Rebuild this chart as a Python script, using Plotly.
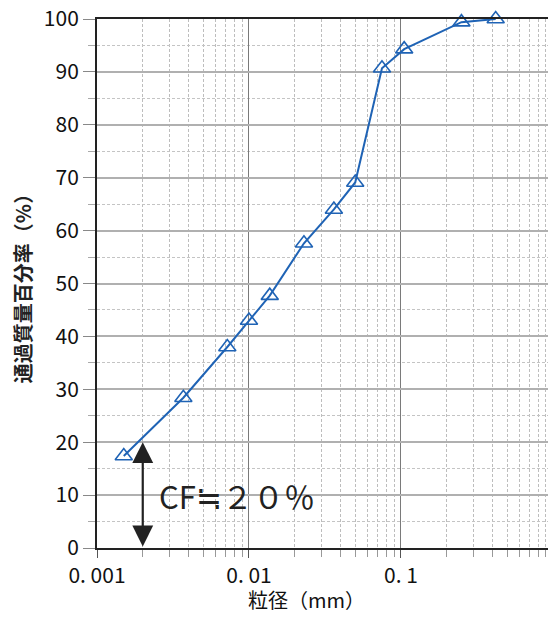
import numpy as np
import plotly.graph_objects as go

# data
grain_size_mm = [0.0015, 0.0037, 0.0072, 0.0100, 0.0137, 0.0230, 0.0362, 0.0500,
                 0.0750, 0.1050, 0.2500, 0.4200]
passing_pct = [17.4, 28.4, 38.0, 43.0, 47.7, 57.6, 64.0, 69.1, 90.7, 94.3, 99.4, 100.0]

x_major_vals = [0.001, 0.01, 0.1, 1]
x_major_text = ["0. 001", "0. 01", "0. 1", "1"]
y_major_vals = list(range(0, 101, 10))

cf_size = 0.002
cf_value = 20
cf_label = "CF≒２０％"

x_title = "粒径（mm）"
y_title = "通過質量百分率（%）"

x_minor_vals = [m * d for d in [0.001, 0.01, 0.1] for m in range(2, 10)]

fig = go.Figure()
fig.add_trace(go.Scatter(
    x=grain_size_mm, y=passing_pct, mode="lines+markers",
    line=dict(color="#1f63b5", width=2),
    marker=dict(symbol="triangle-up-open", size=15, color="#1f63b5",
                line=dict(width=1.6, color="#1f63b5")),
    showlegend=False, cliponaxis=False,
))

font_main = "Noto Sans CJK JP"

fig.update_xaxes(
    type="log", range=[-3, 0.0004],
    tickvals=x_major_vals, ticktext=x_major_text,
    ticks="outside", ticklen=8, tickcolor="#555", tickwidth=1,
    showgrid=True, gridcolor="#7a7a7a", gridwidth=1,
    showline=True, linecolor="#222", linewidth=2, mirror=True,
    tickfont=dict(family=font_main, size=21, color="#111"),
    ticklabeloverflow="allow",
    minor=dict(tickvals=x_minor_vals, ticks="outside", ticklen=7, tickcolor="#999",
               showgrid=True, gridcolor="#bdbdbd", gridwidth=1, griddash="3px,2px"),
    zeroline=False, automargin=False,
)
fig.update_yaxes(
    range=[0, 100], tickvals=y_major_vals,
    ticks="outside", ticklen=12, tickcolor="#888", tickwidth=1,
    showgrid=True, gridcolor="#b0b0b0", gridwidth=2,
    showline=True, linecolor="#222", linewidth=2, mirror=True,
    tickfont=dict(family=font_main, size=21, color="#111"),
    ticklabeloverflow="allow",
    minor=dict(dtick=5, ticks="outside", ticklen=7, tickcolor="#aaa",
               showgrid=True, gridcolor="#c4c4c4", gridwidth=1, griddash="3px,2px"),
    title=dict(text="<b>" + y_title + "</b>", font=dict(family=font_main, size=20, color="#222"),
               standoff=12),
    zeroline=False, automargin=False,
)

# x-axis title as a paper annotation (slightly left of centre as in the reference)
fig.add_annotation(
    x=0.46, y=0, xref="paper", yref="paper", yanchor="top", yshift=-35,
    text=x_title, showarrow=False,
    font=dict(family=font_main, size=20, color="#111"),
)

# double-headed arrow for CF
fig.add_annotation(
    x=np.log10(cf_size), y=cf_value, ax=np.log10(cf_size), ay=0,
    xref="x", yref="y", axref="x", ayref="y",
    text="", showarrow=True, arrowhead=2, startarrowhead=2, arrowside="end+start",
    arrowsize=1.9, startarrowsize=1.9, arrowwidth=2.2, arrowcolor="#222",
    standoff=0, startstandoff=0,
)
fig.add_annotation(
    x=np.log10(0.0025), y=cf_value / 2, xref="x", yref="y",
    text=cf_label, showarrow=False, xanchor="left", yanchor="middle",
    font=dict(family=font_main, size=31, color="#222"),
)

# the page body adds an 8px offset; size the figure so it fits the window
fig.update_layout(
    width=548, height=605,
    margin=dict(l=89, r=3, t=11, b=65),
    paper_bgcolor="white", plot_bgcolor="white",
)

fig.write_html("out.html")
